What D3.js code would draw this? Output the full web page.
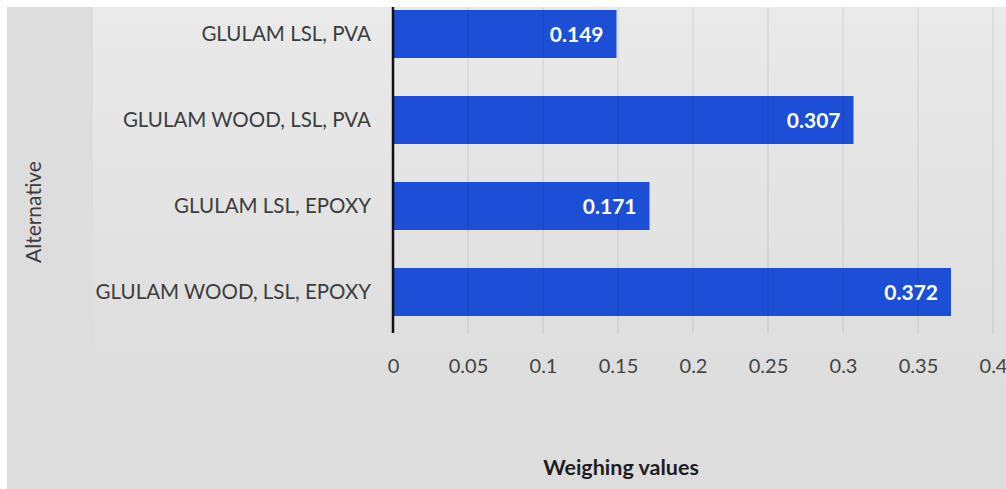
<!DOCTYPE html>
<html>
<head>
<meta charset="utf-8">
<script src="https://cdn.jsdelivr.net/npm/d3@7"></script>
<style>
  html, body { margin: 0; padding: 0; background: #ffffff; }
  svg { display: block; }
</style>
</head>
<body>
<svg id="chart" width="1006" height="489"></svg>
<script>
// Alternatives, listed top to bottom
const categories = [
  "GLULAM LSL, PVA",
  "GLULAM WOOD, LSL, PVA",
  "GLULAM LSL, EPOXY",
  "GLULAM WOOD, LSL, EPOXY"
];
// Weighing value of each alternative
const values = [0.149, 0.307, 0.171, 0.372];
// Horizontal axis ticks
const tickValues = [0, 0.05, 0.1, 0.15, 0.2, 0.25, 0.3, 0.35, 0.4];
const tickLabels = ["0", "0.05", "0.1", "0.15", "0.2", "0.25", "0.3", "0.35", "0.4"];

const svg = d3.select("#chart");
const font = "Lato, 'Open Sans', sans-serif";

// Backgrounds: outer chart area and inner plot panel
const defs = svg.append("defs");
const grad = defs.append("linearGradient")
  .attr("id", "panelGrad").attr("x1", 0).attr("y1", 0).attr("x2", 0).attr("y2", 1);
grad.append("stop").attr("offset", "0%").attr("stop-color", "#eaeaea");
grad.append("stop").attr("offset", "100%").attr("stop-color", "#dddddd");

svg.append("rect").attr("x", 7).attr("y", 7).attr("width", 999).attr("height", 482)
  .attr("fill", "#dddddd");
svg.append("rect").attr("x", 93).attr("y", 7).attr("width", 913).attr("height", 390)
  .attr("fill", "url(#panelGrad)");

// Scales
const x = d3.scaleLinear().domain([0, 0.4]).range([393, 993]);
const y = d3.scaleBand().domain(categories).range([10, 316])
  .paddingInner(0.442).paddingOuter(0);

// Bars
svg.append("g").selectAll("rect")
  .data(categories)
  .join("rect")
  .attr("x", x(0))
  .attr("y", d => y(d))
  .attr("width", (d, i) => x(values[i]) - x(0))
  .attr("height", y.bandwidth())
  .attr("fill", "#1c4fd6");

// Vertical gridlines (drawn over the bars, faint)
svg.append("g").selectAll("line")
  .data(tickValues.slice(1))
  .join("line")
  .attr("x1", d => x(d)).attr("x2", d => x(d))
  .attr("y1", 7).attr("y2", 333)
  .attr("stroke", "#000")
  .attr("stroke-opacity", 0.1)
  .attr("stroke-width", 1);

// Value labels inside bar ends
svg.append("g").selectAll("text")
  .data(categories)
  .join("text")
  .attr("x", (d, i) => x(values[i]) - 13)
  .attr("y", d => y(d) + y.bandwidth() / 2)
  .attr("dy", "0.36em")
  .attr("text-anchor", "end")
  .attr("font-family", font)
  .attr("font-weight", "bold")
  .attr("font-size", 21)
  .attr("fill", "#ffffff")
  .text((d, i) => values[i].toFixed(3));

// Category axis
const yAxis = d3.axisLeft(y).tickSize(0).tickPadding(22);
const yg = svg.append("g").attr("transform", `translate(${x(0)},0)`).call(yAxis);
yg.select(".domain").remove();
yg.selectAll("text")
  .attr("font-family", font)
  .attr("font-size", 20.5)
  .attr("fill", "#3d3d3d");

// Axis line at zero
svg.append("line")
  .attr("x1", x(0)).attr("x2", x(0))
  .attr("y1", 7).attr("y2", 333)
  .attr("stroke", "#111").attr("stroke-width", 2.5);

// Value axis
const xAxis = d3.axisBottom(x).tickValues(tickValues)
  .tickFormat((d, i) => tickLabels[i]).tickSize(0).tickPadding(0);
const xg = svg.append("g").attr("transform", "translate(0,366)").call(xAxis);
xg.select(".domain").remove();
xg.selectAll("text")
  .attr("dy", "0.36em")
  .attr("font-family", font)
  .attr("font-size", 20)
  .attr("fill", "#444");

// Axis titles
svg.append("text")
  .attr("transform", "translate(33,212) rotate(-90)")
  .attr("dy", "0.36em")
  .attr("text-anchor", "middle")
  .attr("font-family", font)
  .attr("font-size", 21)
  .attr("fill", "#3d3d3d")
  .text("Alternative");

svg.append("text")
  .attr("x", 621).attr("y", 467)
  .attr("dy", "0.36em")
  .attr("text-anchor", "middle")
  .attr("font-family", font)
  .attr("font-weight", "bold")
  .attr("font-size", 21.5)
  .attr("fill", "#1e1e1e")
  .text("Weighing values");
</script>
</body>
</html>
